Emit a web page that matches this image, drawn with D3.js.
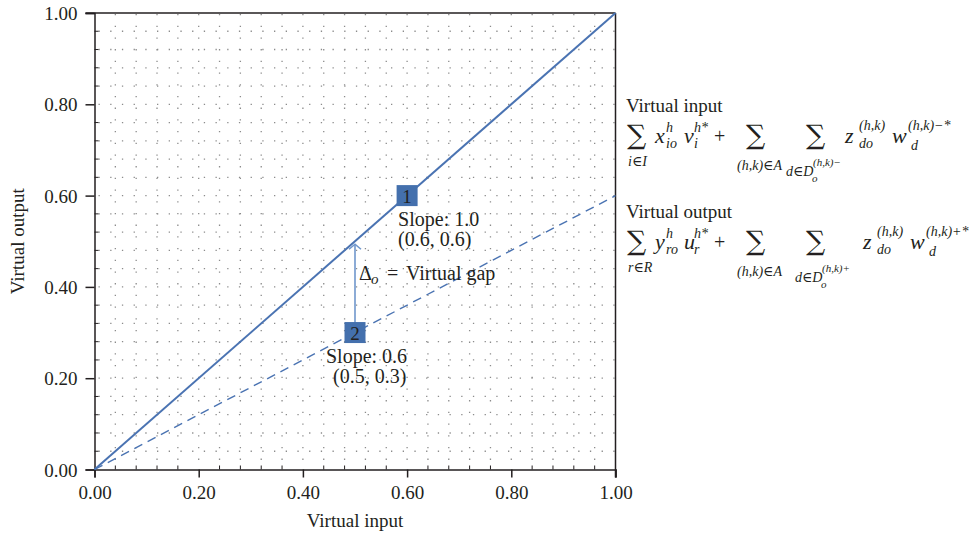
<!DOCTYPE html>
<html>
<head>
<meta charset="utf-8">
<script src="https://cdn.jsdelivr.net/npm/d3@7"></script>
<style>
  body { margin: 0; background: #fff; }
  svg text { font-family: 'Liberation Serif', 'DejaVu Serif', serif; fill: #231f20; }
</style>
</head>
<body>
<div id="chart"></div>
<script>
// axis ticks
const tickValues = [0, 0.2, 0.4, 0.6, 0.8, 1.0];
const minorValues = [0.04, 0.08, 0.12, 0.16, 0.24, 0.28, 0.32, 0.36, 0.44, 0.48, 0.52, 0.56,
  0.64, 0.68, 0.72, 0.76, 0.84, 0.88, 0.92, 0.96];
const gridValues = [0.04, 0.08, 0.12, 0.16, 0.2, 0.24, 0.28, 0.32, 0.36, 0.4, 0.44, 0.48, 0.52,
  0.56, 0.6, 0.64, 0.68, 0.72, 0.76, 0.8, 0.84, 0.88, 0.92, 0.96];

// the two frontier lines
const solidX = [0, 1.0];
const solidY = [0, 1.0];
const dashedX = [0, 1.0];
const dashedY = [0, 0.6];

// numbered points
const pointLabels = ['1', '2'];
const pointX = [0.6, 0.5];
const pointY = [0.6, 0.3];
const slopeTexts = ['Slope: 1.0', 'Slope: 0.6'];
const coordTexts = ['(0.6, 0.6)', '(0.5, 0.3)'];

// virtual gap arrow
const gapX = 0.5;
const gapFrom = 0.3;
const gapTo = 0.5;

const width = 977;
const height = 544;
const margin = { left: 94.5, right: 361.5, top: 13, bottom: 74.5 };
const blue = '#4a73b2';

const svg = d3.select('#chart')
  .append('svg')
  .attr('width', width)
  .attr('height', height);

const x = d3.scaleLinear().domain([0, 1]).range([margin.left, width - margin.right]);
const y = d3.scaleLinear().domain([0, 1]).range([height - margin.bottom, margin.top]);

// dotted background grid
const grid = svg.append('g').attr('stroke', '#8c8c8c').attr('stroke-width', 1.3)
  .attr('stroke-dasharray', '1.3 10.4');
grid.selectAll('.gv').data(gridValues).enter().append('line')
  .attr('x1', d => x(d)).attr('x2', d => x(d))
  .attr('y1', y(1) + 1).attr('y2', y(0));
grid.selectAll('.gh').data(gridValues).enter().append('line')
  .attr('x1', x(0) + 4).attr('x2', x(1))
  .attr('y1', d => y(d)).attr('y2', d => y(d));

// axes
const xAxis = svg.append('g')
  .attr('transform', `translate(0,${y(0)})`)
  .call(d3.axisBottom(x).tickValues(tickValues).tickFormat(d3.format('.2f'))
    .tickSize(8).tickPadding(8));
const yAxis = svg.append('g')
  .attr('transform', `translate(${x(0)},0)`)
  .call(d3.axisLeft(y).tickValues(tickValues).tickFormat(d3.format('.2f'))
    .tickSize(9).tickPadding(8));
[xAxis, yAxis].forEach(a => {
  a.select('.domain').attr('stroke', '#231f20').attr('stroke-width', 1.5);
  a.selectAll('.tick line').attr('stroke', '#231f20').attr('stroke-width', 1.5);
  a.selectAll('.tick text').attr('font-size', 19)
    .attr('font-family', "'Liberation Serif', serif").attr('fill', '#231f20');
});
yAxis.selectAll('.tick text').attr('dy', '0.35em');

// minor ticks pointing inward
svg.append('g').selectAll('line').data(minorValues).enter().append('line')
  .attr('x1', d => x(d)).attr('x2', d => x(d))
  .attr('y1', y(0)).attr('y2', y(0) - 4)
  .attr('stroke', '#231f20').attr('stroke-width', 1);
svg.append('g').selectAll('line').data(minorValues).enter().append('line')
  .attr('x1', x(0)).attr('x2', x(0) + 4)
  .attr('y1', d => y(d)).attr('y2', d => y(d))
  .attr('stroke', '#231f20').attr('stroke-width', 1);

// top and right borders
svg.append('line').attr('x1', x(0) - 9).attr('x2', x(1)).attr('y1', y(1)).attr('y2', y(1))
  .attr('stroke', '#231f20').attr('stroke-width', 1.5);
svg.append('line').attr('x1', x(1)).attr('x2', x(1)).attr('y1', y(1)).attr('y2', y(0) + 8)
  .attr('stroke', '#231f20').attr('stroke-width', 1.5);

// axis titles
svg.append('text').attr('x', (x(0) + x(1)) / 2).attr('y', 527)
  .attr('text-anchor', 'middle').attr('font-size', 19).text('Virtual input');
svg.append('text').attr('transform', `translate(24,${(y(0) + y(1)) / 2}) rotate(-90)`)
  .attr('text-anchor', 'middle').attr('font-size', 19).text('Virtual output');

// frontier lines
const line = d3.line().x(d => x(d[0])).y(d => y(d[1]));
svg.append('path').datum(solidX.map((v, i) => [v, solidY[i]])).attr('d', line)
  .attr('fill', 'none').attr('stroke', blue).attr('stroke-width', 2);
svg.append('path').datum(dashedX.map((v, i) => [v, dashedY[i]])).attr('d', line)
  .attr('fill', 'none').attr('stroke', blue).attr('stroke-width', 1.4)
  .attr('stroke-dasharray', '9 6');

// gap arrow
svg.append('line').attr('x1', x(gapX)).attr('x2', x(gapX))
  .attr('y1', y(gapFrom)).attr('y2', y(gapTo) + 3)
  .attr('stroke', '#7097cc').attr('stroke-width', 1.6);
svg.append('path')
  .attr('d', `M${x(gapX) - 6},${y(gapTo) + 8}L${x(gapX)},${y(gapTo) + 3}L${x(gapX) + 6},${y(gapTo) + 8}`)
  .attr('fill', 'none').attr('stroke', '#7097cc').attr('stroke-width', 1.6);
const gx = x(gapX);
svg.append('text').attr('x', gx + 4).attr('y', 280).attr('font-size', 20).text('\u0394');
svg.append('text').attr('x', gx + 16).attr('y', 284).attr('font-size', 15)
  .attr('font-style', 'italic').text('o');
svg.append('text').attr('x', gx + 32).attr('y', 280).attr('font-size', 20).text('=');
svg.append('text').attr('x', gx + 51).attr('y', 280).attr('font-size', 20).text('Virtual gap');

// numbered squares and their notes
const labelOffsets = [{ sx: -9, cx: -9 }, { sx: -29, cx: -22 }];
const pts = svg.append('g').selectAll('g').data(pointLabels).enter().append('g');
pts.append('rect')
  .attr('x', (d, i) => x(pointX[i]) - 10.5).attr('y', (d, i) => y(pointY[i]) - 10.5)
  .attr('width', 21).attr('height', 21).attr('fill', '#4470ad');
pts.append('text')
  .attr('x', (d, i) => x(pointX[i])).attr('y', (d, i) => y(pointY[i]) + 7)
  .attr('text-anchor', 'middle').attr('font-size', 19).attr('fill', '#1a1a1a').text(d => d);
pts.append('text')
  .attr('x', (d, i) => x(pointX[i]) + labelOffsets[i].sx).attr('y', (d, i) => y(pointY[i]) + 30)
  .attr('font-size', 20).text((d, i) => slopeTexts[i]);
pts.append('text')
  .attr('x', (d, i) => x(pointX[i]) + labelOffsets[i].cx).attr('y', (d, i) => y(pointY[i]) + 50)
  .attr('font-size', 20).text((d, i) => coordTexts[i]);

// formulas on the right
function put(g, px, py, str, size, italic, family) {
  const t = g.append('text').attr('x', px).attr('y', py).attr('font-size', size)
    .attr('font-style', italic ? 'italic' : 'normal').text(str);
  if (family) t.style('font-family', family);
}
function sigma(g, px, py) {
  put(g, px, py, '\u2211', 27, false, "'DejaVu Serif', serif");
}
function formula(ox, oy, title, v1, s1, v2, s2, idx, sign, shift) {
  const g = svg.append('g').attr('transform', `translate(${ox},${oy})`);
  put(g, 0, -31, title, 19, false);
  sigma(g, 1, 1);
  put(g, 2, 23, idx, 14, true);
  put(g, 29, 0, v1, 22, true);
  put(g, 40, 5, s1, 14, true);
  put(g, 40, -11, 'h', 14, true);
  put(g, 58, 0, v2, 22, true);
  put(g, 68, 5, s2, 14, true);
  put(g, 68, -11, 'h*', 14, true);
  put(g, 88, 0, '+', 20, false);
  sigma(g, 120, 1);
  put(g, 111, 27, '(h,k)\u2208A', 14, true);
  sigma(g, 180, 1);
  put(g, 160 + shift / 2, 33, 'd\u2208D', 14, true);
  put(g, 186 + shift / 2, 39, 'o', 11, true);
  put(g, 187 + shift / 2, 23, '(h,k)' + sign, 11, true);
  put(g, 219 + shift, 0, 'z', 22, true);
  put(g, 233 + shift, -13, '(h,k)', 14, true);
  put(g, 233 + shift, 5, 'do', 14, true);
  put(g, 266 + shift, 0, 'w', 22, true);
  put(g, 282 + shift, -13, '(h,k)' + sign + '*', 14, true);
  put(g, 285 + shift, 7, 'd', 14, true);
}
formula(626, 143, 'Virtual input', 'x', 'io', 'v', 'i', 'i\u2208I', '\u2212', 0);
formula(626, 249, 'Virtual output', 'y', 'ro', 'u', 'r', 'r\u2208R', '+', 18);
</script>
</body>
</html>
